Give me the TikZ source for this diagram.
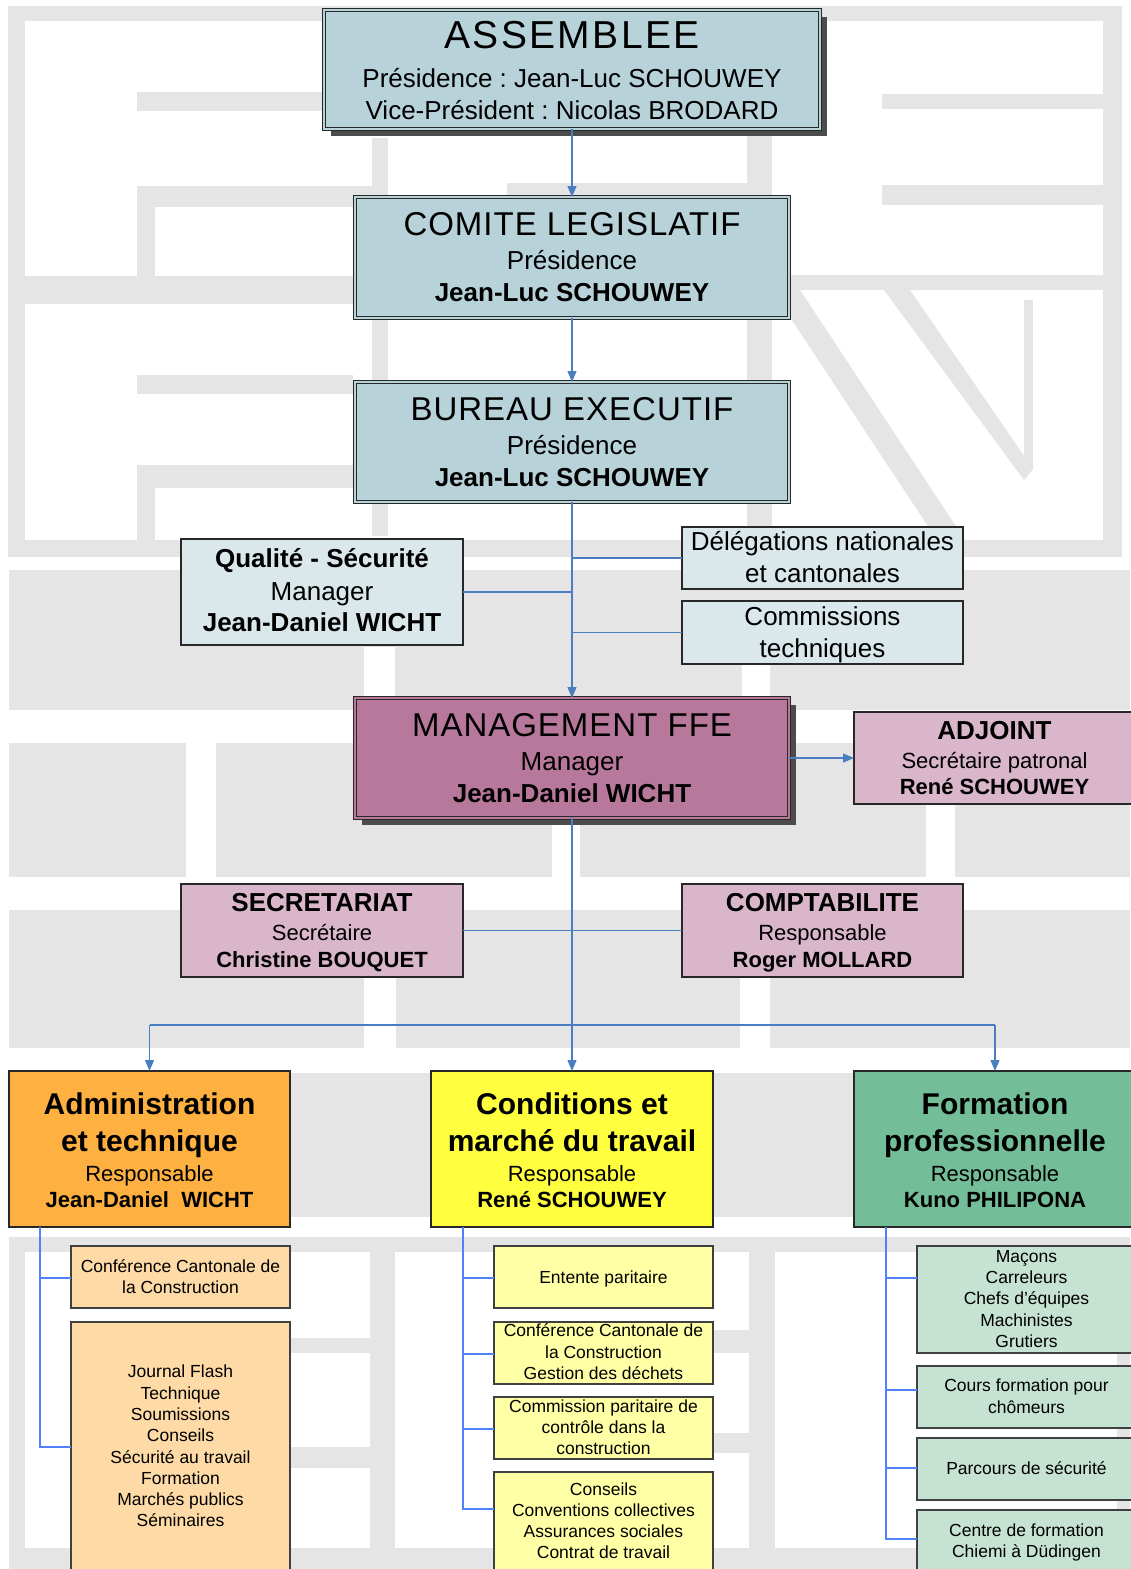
\documentclass[tikz,border=0pt]{standalone}
\usepackage{fontspec}
\setmainfont{Liberation Sans}
\newfontfamily\ttlA[LetterSpace=6]{Liberation Sans}
\newfontfamily\ttlB[LetterSpace=3]{Liberation Sans}
\usetikzlibrary{arrows.meta,shadows,calc}
\newcommand\fsz[1]{\fontsize{#1}{#1}\selectfont}
\definecolor{bgG}{RGB}{229,229,229}
\definecolor{topF}{RGB}{183,210,217}
\definecolor{liteF}{RGB}{218,232,236}
\definecolor{manF}{RGB}{184,120,156}
\definecolor{pinkF}{RGB}{217,182,202}
\definecolor{admF}{RGB}{254,176,64}
\definecolor{condF}{RGB}{255,255,64}
\definecolor{formF}{RGB}{115,189,153}
\definecolor{admS}{RGB}{253,218,166}
\definecolor{condS}{RGB}{255,255,166}
\definecolor{formS}{RGB}{198,226,211}
\definecolor{lineB}{RGB}{74,126,193}
\definecolor{lineS}{RGB}{80,128,250}
\definecolor{edgeD}{RGB}{40,40,40}
\begin{document}
\frenchspacing
\begin{tikzpicture}[x=1pt,y=-1pt,
  box/.style={draw=edgeD, line width=1.3pt, inner sep=0pt, outer sep=0pt, rectangle},
  dbl/.style={draw=edgeD, line width=1pt, double=#1, double distance=2.6pt, fill=#1, inner sep=0pt, outer sep=0pt, rectangle},
  shd/.style={drop shadow={shadow xshift=7pt, shadow yshift=-7pt, fill=black!70, opacity=1}},
  subbox/.style={draw=black!75, line width=1.6pt, inner sep=0pt, outer sep=0pt, rectangle, minimum width=219pt},
  tx/.style={anchor=base, inner sep=0pt},
  conn/.style={draw=lineB, line width=1.2pt},
  arr/.style={conn, -{Triangle[length=11pt,width=9pt]}},
  sconn/.style={draw=lineS, line width=1.2pt},
]
\useasboundingbox (0,0) rectangle (1130,1569);
\fill[white] (0,0) rectangle (1130,1569);
% ---------- watermark ----------
\begin{scope}[fill=bgG]
\fill (8,6) rectangle (1122,21);
\fill (8,6) rectangle (25,557);
\fill (1103,6) rectangle (1122,557);
\fill (8,540) rectangle (1122,557);
\fill (137,92) rectangle (322,111);
\fill (137,186) rectangle (372,207);
\fill (137,186) rectangle (155,276);
\fill (20,276) rectangle (372,304);
\fill (372,138) rectangle (388,536);
\fill (137,375) rectangle (353,394);
\fill (137,465) rectangle (353,488);
\fill (137,465) rectangle (155,543);
\fill (882,94) rectangle (1103,109);
\fill (882,185) rectangle (1103,205);
\fill (507,183) rectangle (772,205);
\fill (747,134) rectangle (772,557);
\fill (772,275) rectangle (1108,290);
\fill (772,290) -- (800,290) -- (965,540) -- (937,540) -- cycle;
\fill (884,290) -- (910,290) -- (1033,469) -- (1024,480) -- cycle;
\fill (1024,300) rectangle (1033,469);
% lower blocks
\fill (9,570) rectangle (1130,710);
\fill (9,743) rectangle (1130,877);
\fill (9,910) rectangle (1130,1048);
\fill (9,1073) rectangle (1130,1217);
\fill (9,1237) rectangle (1130,1252);
\fill (9,1237) rectangle (25,1569);
\fill (370,1237) rectangle (395,1569);
\fill (749,1237) rectangle (775,1569);
\fill (1117,1237) rectangle (1130,1569);
\fill (9,1548) rectangle (1130,1569);
\fill (290,1338) rectangle (395,1353);
\fill (290,1447) rectangle (395,1468);
\fill (713,1330) rectangle (775,1353);
\fill (713,1433) rectangle (775,1453);
\end{scope}
\begin{scope}[fill=white]
\fill (364,647) rectangle (395,710);
\fill (742,647) rectangle (770,710);
\fill (186,743) rectangle (216,877);
\fill (552,743) rectangle (580,877);
\fill (926,743) rectangle (955,877);
\fill (364,910) rectangle (396,1048);
\fill (740,910) rectangle (770,1048);
\end{scope}
% ---------- top boxes ----------
\node[dbl=topF, shd, minimum width=496pt, minimum height=119pt] (ass) at (572,69.5) {};
\node[tx, font=\ttlA\fsz{39}] (assT) at (572,48) {ASSEMBLEE};
\node[tx, font=\fsz{26}] (assP) at (572,87) {Présidence : Jean-Luc SCHOUWEY};
\node[tx, font=\fsz{26}] (assV) at (572,119) {Vice-Président : Nicolas BRODARD};

\node[dbl=topF, minimum width=434pt, minimum height=121pt] (com) at (572,257.5) {};
\node[tx, font=\ttlB\fsz{33}] (comT) at (572,235) {COMITE LEGISLATIF};
\node[tx, font=\fsz{26}] (comP) at (572,269) {Présidence};
\node[tx, font=\bfseries\fsz{26}] (comN) at (572,301) {Jean-Luc SCHOUWEY};

\node[dbl=topF, minimum width=434pt, minimum height=120pt] (bur) at (572,442) {};
\node[tx, font=\ttlB\fsz{33}] (burT) at (572,420) {BUREAU EXECUTIF};
\node[tx, font=\fsz{26}] (burP) at (572,454) {Présidence};
\node[tx, font=\bfseries\fsz{26}] (burN) at (572,486) {Jean-Luc SCHOUWEY};

\node[box, fill=liteF, minimum width=282pt, minimum height=106pt] (qual) at (322,592) {};
\node[tx, font=\bfseries\fsz{26}] (qualT) at (322,567) {Qualité - Sécurité};
\node[tx, font=\fsz{26}] (qualM) at (322,600) {Manager};
\node[tx, font=\bfseries\fsz{26}] (qualN) at (322,631) {Jean-Daniel WICHT};

\node[box, fill=liteF, minimum width=281pt, minimum height=62pt] (del) at (822.5,558) {};
\node[tx, font=\fsz{26}] (delA) at (822.5,550) {Délégations nationales};
\node[tx, font=\fsz{26}] (delB) at (822.5,582) {et cantonales};

\node[box, fill=liteF, minimum width=281pt, minimum height=63pt] (comm) at (822.5,632.5) {};
\node[tx, font=\fsz{26}] (commA) at (822.5,625) {Commissions};
\node[tx, font=\fsz{26}] (commB) at (822.5,657) {techniques};

\node[dbl=manF, shd, minimum width=434pt, minimum height=120pt] (man) at (572,758) {};
\node[tx, font=\ttlB\fsz{33}] (manT) at (572,736) {MANAGEMENT FFE};
\node[tx, font=\fsz{26}] (manM) at (572,770) {Manager};
\node[tx, font=\bfseries\fsz{26}] (manN) at (572,802) {Jean-Daniel WICHT};

\node[box, fill=pinkF, minimum width=281pt, minimum height=92pt] (adj) at (994.5,758) {};
\node[tx, font=\bfseries\fsz{26}] (adjT) at (994.5,739) {ADJOINT};
\node[tx, font=\fsz{22}] (adjR) at (994.5,768) {Secrétaire patronal};
\node[tx, font=\bfseries\fsz{22}] (adjN) at (994.5,794) {René SCHOUWEY};

\node[box, fill=pinkF, minimum width=282pt, minimum height=93pt] (sec) at (322,930.5) {};
\node[tx, font=\bfseries\fsz{26}] (secT) at (322,911) {SECRETARIAT};
\node[tx, font=\fsz{22}] (secR) at (322,940) {Secrétaire};
\node[tx, font=\bfseries\fsz{22}] (secN) at (322,967) {Christine BOUQUET};

\node[box, fill=pinkF, minimum width=281pt, minimum height=93pt] (cpt) at (822.5,930.5) {};
\node[tx, font=\bfseries\fsz{26}] (cptT) at (822.5,911) {COMPTABILITE};
\node[tx, font=\fsz{22}] (cptR) at (822.5,940) {Responsable};
\node[tx, font=\bfseries\fsz{22}] (cptN) at (822.5,967) {Roger MOLLARD};

% ---------- departments ----------
\node[box, fill=admF, minimum width=281pt, minimum height=156pt] (adm) at (149.5,1149) {};
\node[tx, font=\bfseries\fsz{30}] (admA) at (149.5,1114) {Administration};
\node[tx, font=\bfseries\fsz{30}] (admB) at (149.5,1151) {et technique};
\node[tx, font=\fsz{22}] (admR) at (149.5,1181) {Responsable};
\node[tx, font=\bfseries\fsz{22}] (admN) at (149.5,1207) {Jean-Daniel~~WICHT};

\node[box, fill=condF, minimum width=282pt, minimum height=156pt] (cond) at (572,1149) {};
\node[tx, font=\bfseries\fsz{30}] (condA) at (572,1114) {Conditions et};
\node[tx, font=\bfseries\fsz{30}] (condB) at (572,1151) {marché du travail};
\node[tx, font=\fsz{22}] (condR) at (572,1181) {Responsable};
\node[tx, font=\bfseries\fsz{22}] (condN) at (572,1207) {René SCHOUWEY};

\node[box, fill=formF, minimum width=282pt, minimum height=156pt] (form) at (995,1149) {};
\node[tx, font=\bfseries\fsz{30}] (formA) at (995,1114) {Formation};
\node[tx, font=\bfseries\fsz{30}] (formB) at (995,1151) {professionnelle};
\node[tx, font=\fsz{22}] (formR) at (995,1181) {Responsable};
\node[tx, font=\bfseries\fsz{22}] (formN) at (995,1207) {Kuno PHILIPONA};

% ---------- sub boxes ----------
\begin{scope}[every node/.append style={font=\fsz{17.5}}]
\node[subbox, fill=admS, minimum height=62pt] (a1) at (180.5,1277) {};
\node[tx] (a1a) at (180.5,1272) {Conférence Cantonale de};
\node[tx] (a1b) at (180.5,1293) {la Construction};
\node[subbox, fill=admS, minimum height=278pt] (a2) at (180.5,1461) {};
\node[tx] (a2a) at (180.5,1377) {Journal Flash};
\node[tx] (a2b) at (180.5,1399) {Technique};
\node[tx] (a2c) at (180.5,1420) {Soumissions};
\node[tx] (a2d) at (180.5,1441) {Conseils};
\node[tx] (a2e) at (180.5,1463) {Sécurité au travail};
\node[tx] (a2f) at (180.5,1484) {Formation};
\node[tx] (a2g) at (180.5,1505) {Marchés publics};
\node[tx] (a2h) at (180.5,1526) {Séminaires};

\node[subbox, fill=condS, minimum height=62pt] (c1) at (603.5,1277) {};
\node[tx] (c1a) at (603.5,1283) {Entente paritaire};
\node[subbox, fill=condS, minimum height=62pt] (c2) at (603.5,1353) {};
\node[tx] (c2a) at (603.5,1336) {Conférence Cantonale de};
\node[tx] (c2b) at (603.5,1358) {la Construction};
\node[tx] (c2c) at (603.5,1379) {Gestion des déchets};
\node[subbox, fill=condS, minimum height=62pt] (c3) at (603.5,1428) {};
\node[tx] (c3a) at (603.5,1412) {Commission paritaire de};
\node[tx] (c3b) at (603.5,1433) {contrôle dans la};
\node[tx] (c3c) at (603.5,1454) {construction};
\node[subbox, fill=condS, minimum height=128pt] (c4) at (603.5,1536) {};
\node[tx] (c4a) at (603.5,1495) {Conseils};
\node[tx] (c4b) at (603.5,1516) {Conventions collectives};
\node[tx] (c4c) at (603.5,1537) {Assurances sociales};
\node[tx] (c4d) at (603.5,1558) {Contrat de travail};

\node[subbox, fill=formS, minimum height=107pt] (f1) at (1026.5,1299.5) {};
\node[tx] (f1a) at (1026.5,1262) {Maçons};
\node[tx] (f1b) at (1026.5,1283) {Carreleurs};
\node[tx] (f1c) at (1026.5,1304) {Chefs d’équipes};
\node[tx] (f1d) at (1026.5,1326) {Machinistes};
\node[tx] (f1e) at (1026.5,1347) {Grutiers};
\node[subbox, fill=formS, minimum height=62pt] (f2) at (1026.5,1397) {};
\node[tx] (f2a) at (1026.5,1391) {Cours formation pour};
\node[tx] (f2b) at (1026.5,1413) {chômeurs};
\node[subbox, fill=formS, minimum height=62pt] (f3) at (1026.5,1469) {};
\node[tx] (f3a) at (1026.5,1474) {Parcours de sécurité};
\node[subbox, fill=formS, minimum height=90pt] (f4) at (1026.5,1555) {};
\node[tx] (f4a) at (1026.5,1536) {Centre de formation};
\node[tx] (f4b) at (1026.5,1557) {Chiemi à Düdingen};
\end{scope}

% ---------- connectors ----------
\draw[arr] (ass) -- (com);
\draw[arr] (com) -- (bur);
\draw[arr] (bur) -- (man);
\draw[conn] (qual.east) -- (qual.east -| bur.south);
\draw[conn] (del.west) -- (del.west -| bur.south);
\draw[conn] (comm.west) -- (comm.west -| bur.south);
\draw[arr] (man) -- (adj);
\draw[conn] (sec.east) -- (cpt.west);
\draw[arr] (man) -- (cond);
\coordinate (br) at (572,1025);
\draw[conn] (adm.north |- br) -- (form.north |- br);
\draw[arr] (adm.north |- br) -- (adm.north);
\draw[arr] (form.north |- br) -- (form.north);

\coordinate (at) at ($(adm.south west)+(31,0)$);
\coordinate (ct) at ($(cond.south west)+(32,0)$);
\coordinate (ft) at ($(form.south west)+(32,0)$);
\draw[sconn] (at) |- ($(a1.north west)+(0,32)$);
\draw[sconn] (at) |- ($(a2.north west)+(0,125)$);
\draw[sconn] (ct) |- ($(c1.north west)+(0,32)$);
\draw[sconn] (ct) |- ($(c2.north west)+(0,32)$);
\draw[sconn] (ct) |- ($(c3.north west)+(0,32)$);
\draw[sconn] (ct) |- ($(c4.north west)+(0,37)$);
\draw[sconn] (ft) |- ($(f1.north west)+(0,32)$);
\draw[sconn] (ft) |- ($(f2.north west)+(0,24)$);
\draw[sconn] (ft) |- ($(f3.north west)+(0,30)$);
\draw[sconn] (ft) |- ($(f4.north west)+(0,29)$);
\end{tikzpicture}
\end{document}
